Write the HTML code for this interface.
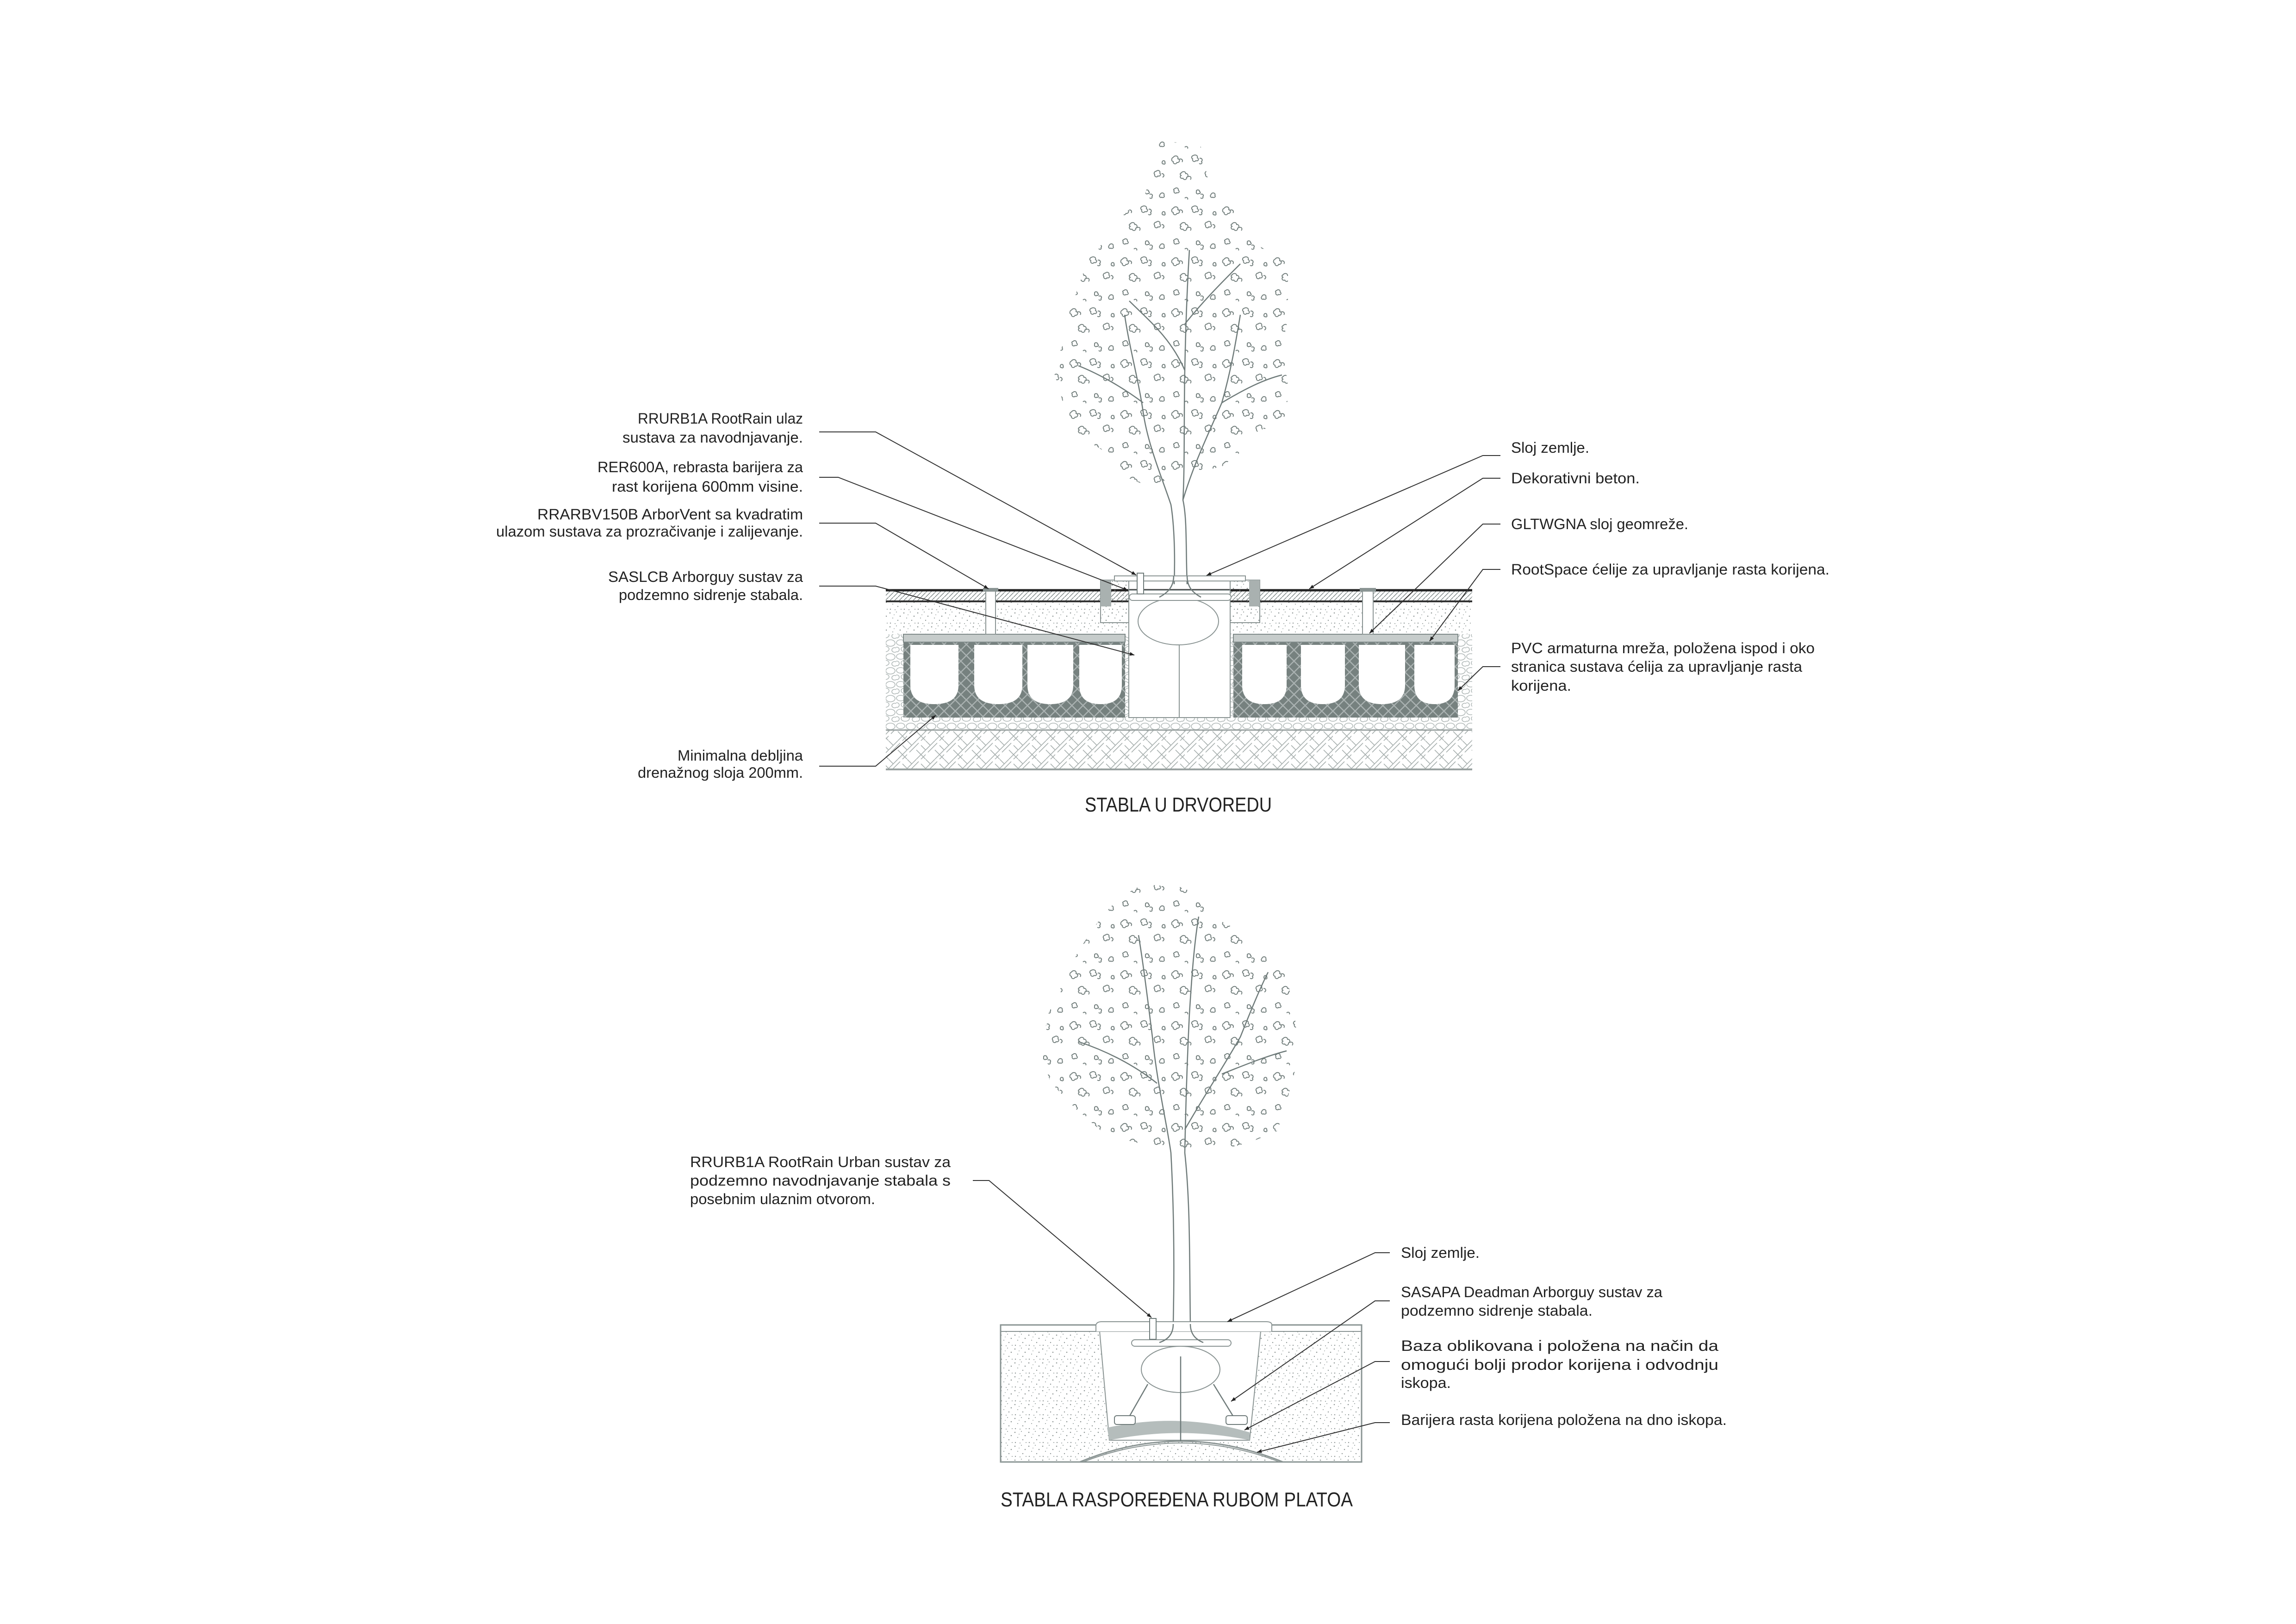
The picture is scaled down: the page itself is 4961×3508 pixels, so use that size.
<!DOCTYPE html>
<html><head><meta charset="utf-8"><style>
html,body{margin:0;padding:0;background:#fff;}
svg{display:block;}
.l{font-family:"Liberation Sans",sans-serif;font-size:32px;fill:#222;}
.r{font-family:"Liberation Sans",sans-serif;font-size:32px;fill:#222;}
.t{font-family:"Liberation Sans",sans-serif;font-size:44px;fill:#222;}
.ld{fill:none;stroke:#333;stroke-width:2;}
.dr{fill:none;stroke:#6f7b7a;stroke-width:2.5;}
</style></head><body>
<svg width="4961" height="3508" viewBox="0 0 4961 3508" xmlns="http://www.w3.org/2000/svg">
<defs>
<marker id="ar" viewBox="0 0 10 10" refX="10" refY="5" markerWidth="22" markerHeight="10" markerUnits="userSpaceOnUse" orient="auto"><path d="M0,1 L10,5 L0,9 Z" fill="#222"/></marker>
<pattern id="leaf" width="110" height="110" patternUnits="userSpaceOnUse">
<g fill="none" stroke="#75817f" stroke-width="2">
<path d="M5,10 c4,-6 12,-3 10,3 c6,1 4,9 -2,8 c-2,5 -9,3 -8,-2 c-5,-1 -4,-8 0,-9 M18,14 c5,-2 9,2 6,6"/>
<path d="M48,6 c5,-3 11,0 9,5 c5,2 2,8 -3,6 c-3,4 -9,1 -7,-4 c-4,-2 -2,-6 1,-7z M62,12 c4,-1 8,3 4,7 c3,3 -1,7 -5,4"/>
<path d="M22,44 c3,-5 10,-4 10,1 c5,-1 7,6 2,8 c1,5 -6,7 -8,2 c-5,2 -8,-4 -4,-6 c-3,-2 -2,-5 0,-5z M36,52 c5,-3 10,1 6,6"/>
<path d="M78,40 c4,-4 10,-1 8,4 c4,3 0,8 -4,6 c-2,4 -8,2 -7,-3 c-3,-3 0,-7 3,-7z M90,45 c5,0 7,5 2,8"/>
<path d="M8,78 c3,-4 9,-2 8,3 c4,2 1,7 -3,5 c-3,3 -8,0 -6,-4 c-2,-2 -1,-4 1,-4z"/>
<path d="M55,82 c2,-3 7,-2 7,2 c3,1 1,5 -2,4 c-2,2 -6,0 -5,-3z M64,90 c4,-2 8,1 5,5 c2,3 -3,5 -5,2"/>
<path d="M92,18 c3,-2 6,0 5,3 c2,2 -1,5 -3,3 c-3,1 -4,-3 -2,-6z"/>
<path d="M88,88 c4,-3 9,0 7,4 c3,3 -2,6 -5,4 c-3,2 -6,-2 -4,-5z M30,98 c3,-3 8,-1 6,3"/>
</g></pattern>
<pattern id="stip" width="30" height="30" patternUnits="userSpaceOnUse">
<g fill="#8d9594"><circle cx="3" cy="4" r="1.3"/><circle cx="17" cy="2" r="1"/><circle cx="25" cy="11" r="1.3"/><circle cx="9" cy="15" r="1"/><circle cx="20" cy="20" r="1.2"/><circle cx="4" cy="26" r="1.2"/><circle cx="14" cy="27" r="1"/><circle cx="27" cy="26" r="1"/><circle cx="12" cy="8" r=".9"/></g></pattern>
<pattern id="grav" width="44" height="30" patternUnits="userSpaceOnUse">
<g fill="none" stroke="#b1b9b8" stroke-width="1.6"><ellipse cx="10" cy="8" rx="9" ry="6"/><ellipse cx="32" cy="9" rx="10" ry="7"/><ellipse cx="20" cy="22" rx="9" ry="6"/><ellipse cx="41" cy="24" rx="6" ry="5"/><ellipse cx="2" cy="23" rx="5" ry="5"/></g></pattern>
<pattern id="soil" width="40" height="40" patternUnits="userSpaceOnUse">
<g stroke="#a7afae" stroke-width="1.6"><path d="M0,20 L20,0 M5,25 L25,5 M20,40 L40,20 M25,45 L45,25"/><path d="M20,20 L40,40 M0,0 L10,10 M30,10 L40,20"/></g></pattern>
<pattern id="hat" width="10" height="10" patternUnits="userSpaceOnUse">
<path d="M0,10 L10,0" stroke="#7a8483" stroke-width="1.4"/></pattern>
<pattern id="cell" width="24" height="24" patternUnits="userSpaceOnUse">
<rect width="24" height="24" fill="#76817f"/><path d="M0,0 L24,24 M24,0 L0,24" stroke="#aab2b1" stroke-width="2.5"/></pattern>
</defs>

<!-- ===== TOP TREE ===== -->
<polygon fill="url(#leaf)" points="2502,303 2594,314 2610,386 2674,450 2690,495 2720,531 2783,567 2783,688 2770,748 2783,832 2780,917 2720,929 2680,977 2640,1008 2560,1025 2480,1050 2420,1025 2390,977 2330,941 2300,881 2275,796 2300,736 2310,676 2340,591 2360,543 2410,507 2430,459 2470,435 2490,363"/>
<g class="dr" stroke-width="3">
<path d="M2537,1262 C2540,1180 2535,1120 2530,1090 C2510,1030 2480,960 2470,890 C2460,820 2440,750 2430,680"/>
<path d="M2565,1262 C2562,1180 2565,1120 2556,1080 C2560,1010 2558,900 2560,800 C2562,700 2565,620 2570,540"/>
<path d="M2556,1080 C2580,1000 2610,940 2640,870 C2660,800 2670,740 2680,680"/>
<path d="M2470,870 C2430,840 2380,810 2330,790"/>
<path d="M2640,870 C2690,840 2730,820 2770,810"/>
<path d="M2560,800 C2530,730 2480,690 2440,650"/>
<path d="M2560,700 C2600,650 2640,610 2680,570"/>
</g>

<!-- ===== TOP GROUND SECTION ===== -->
<rect x="1914" y="1299" width="1267" height="71" fill="url(#stip)"/>
<rect x="1914" y="1370" width="1267" height="207" fill="url(#grav)"/>
<rect x="1914" y="1577" width="1267" height="85" fill="url(#soil)"/>
<line x1="1914" y1="1577" x2="3181" y2="1577" stroke="#9aa2a1" stroke-width="3"/>
<line x1="1914" y1="1662" x2="3181" y2="1662" stroke="#9aa2a1" stroke-width="4"/>
<rect x="1914" y="1275" width="1267" height="24" fill="url(#hat)"/>
<line x1="1914" y1="1275" x2="3181" y2="1275" stroke="#222" stroke-width="5"/>
<line x1="1914" y1="1299" x2="3181" y2="1299" stroke="#333" stroke-width="4"/>
<rect x="1952" y="1370" width="479" height="180" fill="url(#cell)"/>
<rect x="2665" y="1370" width="485" height="180" fill="url(#cell)"/>
<rect x="1952" y="1370" width="479" height="17" fill="#c6cccb" stroke="#7f8a89" stroke-width="2"/>
<rect x="2665" y="1370" width="485" height="17" fill="#c6cccb" stroke="#7f8a89" stroke-width="2"/>
<g fill="#fff">
<path d="M1967,1393 H2071 V1480 Q2071,1521 2019,1521 Q1967,1521 1967,1480Z"/>
<path d="M2105,1393 H2209 V1480 Q2209,1521 2157,1521 Q2105,1521 2105,1480Z"/>
<path d="M2220,1393 H2319 V1480 Q2319,1521 2269,1521 Q2220,1521 2220,1480Z"/>
<path d="M2332,1393 H2424 V1480 Q2424,1521 2378,1521 Q2332,1521 2332,1480Z"/>
<path d="M2684,1393 H2780 V1480 Q2780,1521 2732,1521 Q2684,1521 2684,1480Z"/>
<path d="M2811,1393 H2906 V1480 Q2906,1521 2858,1521 Q2811,1521 2811,1480Z"/>
<path d="M2936,1393 H3036 V1480 Q3036,1521 2986,1521 Q2936,1521 2936,1480Z"/>
<path d="M3056,1393 H3143 V1480 Q3143,1521 3100,1521 Q3056,1521 3056,1480Z"/>
</g>
<rect x="2439" y="1275" width="219" height="275" fill="#fff" stroke="#8a9493" stroke-width="2"/>
<line x1="2548" y1="1380" x2="2548" y2="1550" stroke="#8a9493" stroke-width="2"/>
<rect x="2378" y="1253" width="61" height="92" fill="url(#stip)" stroke="#8a9493" stroke-width="2"/>
<rect x="2658" y="1253" width="64" height="92" fill="url(#stip)" stroke="#8a9493" stroke-width="2"/>
<rect x="2378" y="1253" width="23" height="57" fill="#a9b1b0"/>
<rect x="2699" y="1253" width="23" height="57" fill="#a9b1b0"/>
<rect x="2408" y="1244" width="283" height="11" fill="#fff" stroke="#8a9493" stroke-width="2"/>
<ellipse cx="2546" cy="1342" rx="87" ry="51" fill="#fff" stroke="#8a9493" stroke-width="2"/>
<rect x="2440" y="1283" width="220" height="14" rx="7" fill="#fff" stroke="#8a9493" stroke-width="2"/>
<path d="M2536,1244 C2536,1270 2520,1282 2505,1290 M2565,1244 C2565,1270 2580,1282 2595,1290" class="dr"/>
<rect x="2457" y="1238" width="14" height="45" fill="#fff" stroke="#6f7b7a" stroke-width="2"/>
<rect x="2130" y="1275" width="21" height="95" fill="#fff" stroke="#8a9493" stroke-width="2"/>
<rect x="2124" y="1270" width="33" height="8" fill="#8a9493"/>
<rect x="2944" y="1275" width="23" height="95" fill="#fff" stroke="#8a9493" stroke-width="2"/>
<rect x="2938" y="1270" width="35" height="8" fill="#8a9493"/>

<g class="ld">
<path d="M1770,933 H1892 L2455,1242" marker-end="url(#ar)"/>
<path d="M1770,1031 H1811 L2437,1275" marker-end="url(#ar)"/>
<path d="M1770,1130 H1892 L2136,1272" marker-end="url(#ar)"/>
<path d="M1770,1266 H1892 L2451,1415" marker-end="url(#ar)"/>
<path d="M1770,1655 H1892 L2022,1545" marker-end="url(#ar)"/>
<path d="M3242,984 H3204 L2607,1243" marker-end="url(#ar)"/>
<path d="M3242,1033 H3204 L2829,1272" marker-end="url(#ar)"/>
<path d="M3242,1132 H3204 L2959,1368" marker-end="url(#ar)"/>
<path d="M3242,1230 H3204 L3089,1385" marker-end="url(#ar)"/>
<path d="M3242,1440 H3204 L3150,1492" marker-end="url(#ar)"/>
</g>

<g class="l" text-anchor="end">
<text x="1735" y="915" textLength="357" lengthAdjust="spacingAndGlyphs">RRURB1A RootRain ulaz</text>
<text x="1735" y="956" textLength="390" lengthAdjust="spacingAndGlyphs">sustava za navodnjavanje.</text>
<text x="1735" y="1020" textLength="444" lengthAdjust="spacingAndGlyphs">RER600A, rebrasta barijera za</text>
<text x="1735" y="1062" textLength="413" lengthAdjust="spacingAndGlyphs">rast korijena 600mm visine.</text>
<text x="1735" y="1122" textLength="574" lengthAdjust="spacingAndGlyphs">RRARBV150B  ArborVent sa kvadratim</text>
<text x="1735" y="1159" textLength="663" lengthAdjust="spacingAndGlyphs">ulazom sustava za prozračivanje i zalijevanje.</text>
<text x="1735" y="1257" textLength="421" lengthAdjust="spacingAndGlyphs">SASLCB Arborguy sustav za</text>
<text x="1735" y="1296" textLength="398" lengthAdjust="spacingAndGlyphs">podzemno sidrenje stabala.</text>
<text x="1735" y="1643" textLength="271" lengthAdjust="spacingAndGlyphs">Minimalna debljina</text>
<text x="1735" y="1680" textLength="357" lengthAdjust="spacingAndGlyphs">drenažnog sloja 200mm.</text>
</g>
<g class="r">
<text x="3265" y="978" textLength="169" lengthAdjust="spacingAndGlyphs">Sloj zemlje.</text>
<text x="3265" y="1044" textLength="278" lengthAdjust="spacingAndGlyphs">Dekorativni beton.</text>
<text x="3265" y="1143" textLength="383" lengthAdjust="spacingAndGlyphs">GLTWGNA sloj geomreže.</text>
<text x="3265" y="1241" textLength="688" lengthAdjust="spacingAndGlyphs">RootSpace ćelije za upravljanje rasta korijena.</text>
<text x="3265" y="1411" textLength="656" lengthAdjust="spacingAndGlyphs">PVC armaturna mreža, položena ispod i oko</text>
<text x="3265" y="1451" textLength="629" lengthAdjust="spacingAndGlyphs">stranica sustava ćelija za upravljanje rasta</text>
<text x="3265" y="1492" textLength="130" lengthAdjust="spacingAndGlyphs">korijena.</text>
</g>
<text class="t" x="2344" y="1753" textLength="404" lengthAdjust="spacingAndGlyphs">STABLA U DRVOREDU</text>

<!-- ===== BOTTOM TREE ===== -->
<polygon fill="url(#leaf)" points="2470,1910 2560,1917 2620,1980 2700,2022 2780,2106 2800,2211 2803,2295 2780,2380 2760,2443 2700,2468 2620,2488 2520,2485 2440,2464 2380,2443 2330,2401 2270,2338 2248,2275 2265,2190 2300,2117 2330,2054 2380,1980 2420,1938"/>
<g class="dr" stroke-width="3">
<path d="M2535,2860 C2538,2720 2536,2600 2530,2490 C2520,2420 2500,2340 2490,2240 C2480,2160 2470,2080 2460,2020"/>
<path d="M2572,2860 C2570,2720 2572,2600 2560,2490 C2562,2390 2565,2290 2570,2190 C2575,2110 2580,2040 2590,1980"/>
<path d="M2560,2440 C2600,2370 2640,2310 2680,2240 C2700,2190 2720,2140 2740,2100"/>
<path d="M2500,2340 C2450,2300 2390,2270 2330,2250"/>
<path d="M2640,2320 C2690,2300 2740,2280 2780,2270"/>
</g>

<!-- ===== BOTTOM GROUND ===== -->
<rect x="2162" y="2876" width="780" height="282" fill="url(#stip)"/>
<rect x="2162" y="2862" width="780" height="296" fill="none" stroke="#8a9493" stroke-width="3"/>
<line x1="2162" y1="2876" x2="2942" y2="2876" stroke="#8a9493" stroke-width="2"/>
<path d="M2376,2876 L2724,2876 L2700,3111 L2397,3111 Z" fill="#fff" stroke="#8a9493" stroke-width="2"/>
<path d="M2368,2876 V2862 Q2370,2855 2380,2855 H2736 Q2748,2855 2748,2862 V2876" fill="#fff" stroke="#8a9493" stroke-width="2"/>
<path d="M2392,3084 Q2551,3050 2700,3094 L2700,3111 Q2551,3080 2397,3111 Z" fill="#b5bdbc"/>
<path d="M2333,3158 Q2551,3068 2772,3158" fill="none" stroke="#8a9493" stroke-width="3"/>
<path d="M2340,3158 Q2551,3076 2765,3158" fill="none" stroke="#8a9493" stroke-width="2"/>
<ellipse cx="2551" cy="2958" rx="85" ry="50" fill="#fff" stroke="#8a9493" stroke-width="2"/>
<rect x="2445" y="2894" width="215" height="14" rx="7" fill="#fff" stroke="#8a9493" stroke-width="2"/>
<path d="M2551,2930 V3113 M2480,2990 L2440,3060 M2622,2990 L2665,3060" class="dr" stroke-width="2"/>
<rect x="2408" y="3058" width="45" height="19" rx="5" fill="#fff" stroke="#6f7b7a" stroke-width="2"/>
<rect x="2649" y="3058" width="46" height="19" rx="5" fill="#fff" stroke="#6f7b7a" stroke-width="2"/>
<rect x="2484" y="2848" width="14" height="45" fill="#fff" stroke="#6f7b7a" stroke-width="2"/>
<path d="M2535,2860 C2535,2885 2520,2895 2505,2900 M2572,2860 C2572,2885 2587,2895 2600,2900" class="dr"/>

<g class="ld">
<path d="M2102,2550 H2137 L2488,2846" marker-end="url(#ar)"/>
<path d="M3003,2706 H2971 L2652,2855" marker-end="url(#ar)"/>
<path d="M3003,2810 H2971 L2660,3027" marker-end="url(#ar)"/>
<path d="M3003,2941 H2971 L2689,3089" marker-end="url(#ar)"/>
<path d="M3003,3073 H2971 L2716,3137" marker-end="url(#ar)"/>
</g>
<g class="l">
<text x="1491" y="2521" textLength="563" lengthAdjust="spacingAndGlyphs">RRURB1A RootRain Urban sustav za</text>
<text x="1491" y="2561" textLength="563" lengthAdjust="spacingAndGlyphs">podzemno navodnjavanje stabala s</text>
<text x="1491" y="2601" textLength="400" lengthAdjust="spacingAndGlyphs">posebnim ulaznim otvorom.</text>
</g>
<g class="r">
<text x="3027" y="2717" textLength="170" lengthAdjust="spacingAndGlyphs">Sloj zemlje.</text>
<text x="3027" y="2802" textLength="565" lengthAdjust="spacingAndGlyphs">SASAPA Deadman Arborguy sustav za</text>
<text x="3027" y="2842" textLength="414" lengthAdjust="spacingAndGlyphs">podzemno sidrenje stabala.</text>
<text x="3027" y="2918" textLength="686" lengthAdjust="spacingAndGlyphs">Baza  oblikovana  i  položena  na  način  da</text>
<text x="3027" y="2959" textLength="686" lengthAdjust="spacingAndGlyphs">omogući  bolji  prodor  korijena  i  odvodnju</text>
<text x="3027" y="2998" textLength="108" lengthAdjust="spacingAndGlyphs">iskopa.</text>
<text x="3027" y="3078" textLength="704" lengthAdjust="spacingAndGlyphs">Barijera rasta korijena položena na dno iskopa.</text>
</g>
<text class="t" x="2162" y="3254" textLength="761" lengthAdjust="spacingAndGlyphs">STABLA RASPOREĐENA RUBOM PLATOA</text>
</svg>
</body></html>
